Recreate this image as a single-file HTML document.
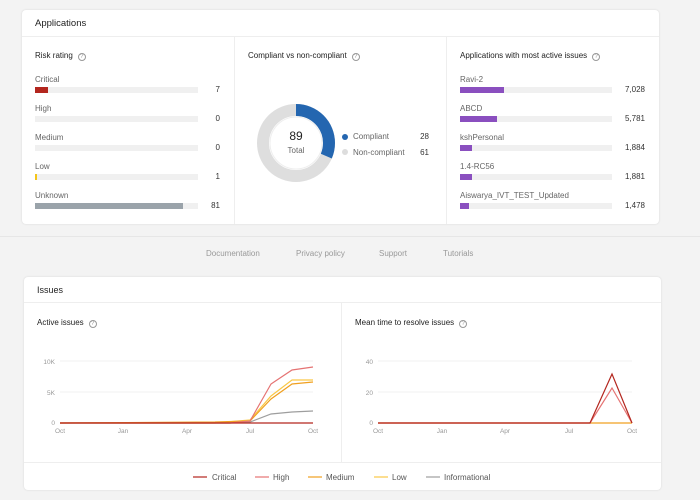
<!DOCTYPE html><html><head><style>
*{margin:0;padding:0;box-sizing:border-box}
body{width:700px;height:500px;background:#f3f3f3;font-family:"Liberation Sans",sans-serif;position:relative;overflow:hidden;color:#333}
.a{position:absolute}
.card{position:absolute;background:#fff;border-radius:4px;box-shadow:0 0 2px rgba(0,0,0,.12)}
.t{font-size:9px;color:#222}
.l{font-size:8px;color:#666}
.v{font-size:8px;color:#333;text-align:right;width:30px}
.q{display:inline-block;width:8px;height:8px;border:1px solid #999;border-radius:50%;font-size:6px;line-height:6px;text-align:center;color:#999;margin-left:5px;vertical-align:0}
.track{position:absolute;height:6px;background:#f0f0f0}
.bar{position:absolute;left:0;top:0;height:6px}
.f{font-size:8px;color:#999}
.ax{font-size:6.5px;fill:#999;font-family:"Liberation Sans",sans-serif}
</style></head><body>
<div class="card" style="left:22px;top:10px;width:637px;height:214px"></div>
<div class="a t" style="left:35px;top:18px;font-size:9.5px">Applications</div>
<div class="a" style="left:22px;top:36px;width:637px;height:1px;background:#eee"></div>
<div class="a" style="left:234px;top:37px;width:1px;height:187px;background:#eee"></div>
<div class="a" style="left:446px;top:37px;width:1px;height:187px;background:#eee"></div>

<div class="a t" style="left:35px;top:51px;font-size:8px">Risk rating<span class="q">?</span></div>
<div class="a l" style="left:35px;top:75px">Critical</div><div class="track" style="left:35px;top:87px;width:163px"><div class="bar" style="width:13px;background:#b3261e"></div></div><div class="a v" style="left:190px;top:85px">7</div>
<div class="a l" style="left:35px;top:104px">High</div><div class="track" style="left:35px;top:116px;width:163px"></div><div class="a v" style="left:190px;top:114px">0</div>
<div class="a l" style="left:35px;top:133px">Medium</div><div class="track" style="left:35px;top:145px;width:163px"></div><div class="a v" style="left:190px;top:143px">0</div>
<div class="a l" style="left:35px;top:162px">Low</div><div class="track" style="left:35px;top:174px;width:163px"><div class="bar" style="width:2px;background:#f5c518"></div></div><div class="a v" style="left:190px;top:172px">1</div>
<div class="a l" style="left:35px;top:191px">Unknown</div><div class="track" style="left:35px;top:203px;width:163px"><div class="bar" style="width:148px;background:#9aa3aa"></div></div><div class="a v" style="left:190px;top:201px">81</div>

<div class="a t" style="left:248px;top:51px;font-size:8px">Compliant vs non-compliant<span class="q">?</span></div>
<svg class="a" style="left:250px;top:97px" width="92" height="92">
<circle cx="46" cy="46" r="33" fill="none" stroke="#dedede" stroke-width="12"/>
<circle cx="46" cy="46" r="33" fill="none" stroke="#2466b0" stroke-width="12" stroke-dasharray="65.2 300" transform="rotate(-90 46 46)"/>
<circle cx="46" cy="46" r="26" fill="none" stroke="#eee" stroke-width="1"/>
</svg>
<div class="a" style="left:276px;top:129px;width:40px;text-align:center;font-size:12px;color:#222">89</div>
<div class="a" style="left:276px;top:146px;width:40px;text-align:center;font-size:8px;color:#666">Total</div>
<div class="a" style="left:342px;top:134px;width:6px;height:6px;border-radius:50%;background:#2466b0"></div>
<div class="a l" style="left:353px;top:132px">Compliant</div><div class="a v" style="left:399px;top:132px">28</div>
<div class="a" style="left:342px;top:149px;width:6px;height:6px;border-radius:50%;background:#ddd"></div>
<div class="a l" style="left:353px;top:148px">Non-compliant</div><div class="a v" style="left:399px;top:148px">61</div>

<div class="a t" style="left:460px;top:51px;font-size:8px">Applications with most active issues<span class="q">?</span></div>
<div class="a l" style="left:460px;top:75px">Ravi-2</div><div class="track" style="left:460px;top:87px;width:152px"><div class="bar" style="width:44px;background:#8a4fbf"></div></div><div class="a v" style="left:615px;top:85px">7,028</div>
<div class="a l" style="left:460px;top:104px">ABCD</div><div class="track" style="left:460px;top:116px;width:152px"><div class="bar" style="width:37px;background:#8a4fbf"></div></div><div class="a v" style="left:615px;top:114px">5,781</div>
<div class="a l" style="left:460px;top:133px">kshPersonal</div><div class="track" style="left:460px;top:145px;width:152px"><div class="bar" style="width:12px;background:#8a4fbf"></div></div><div class="a v" style="left:615px;top:143px">1,884</div>
<div class="a l" style="left:460px;top:162px">1.4-RC56</div><div class="track" style="left:460px;top:174px;width:152px"><div class="bar" style="width:12px;background:#8a4fbf"></div></div><div class="a v" style="left:615px;top:172px">1,881</div>
<div class="a l" style="left:460px;top:191px">Aiswarya_IVT_TEST_Updated</div><div class="track" style="left:460px;top:203px;width:152px"><div class="bar" style="width:9px;background:#8a4fbf"></div></div><div class="a v" style="left:615px;top:201px">1,478</div>

<div class="a" style="left:0;top:236px;width:700px;height:1px;background:#e6e6e6"></div>
<div class="a f" style="left:206px;top:249px">Documentation</div>
<div class="a f" style="left:296px;top:249px">Privacy policy</div>
<div class="a f" style="left:379px;top:249px">Support</div>
<div class="a f" style="left:443px;top:249px">Tutorials</div>

<div class="card" style="left:24px;top:277px;width:637px;height:213px"></div>
<div class="a t" style="left:37px;top:285px">Issues</div>
<div class="a" style="left:24px;top:302px;width:637px;height:1px;background:#eee"></div>
<div class="a" style="left:341px;top:303px;width:1px;height:159px;background:#eee"></div>
<div class="a" style="left:24px;top:462px;width:637px;height:1px;background:#eee"></div>
<div class="a t" style="left:37px;top:318px;font-size:8px">Active issues<span class="q">?</span></div>
<div class="a t" style="left:355px;top:318px;font-size:8px">Mean time to resolve issues<span class="q">?</span></div>

<svg class="a" style="left:0;top:0" width="700" height="500">
<g stroke="#eee" stroke-width="0.7"><line x1="60" y1="361" x2="313" y2="361"/><line x1="60" y1="392" x2="313" y2="392"/><line x1="378" y1="361" x2="632" y2="361"/><line x1="378" y1="392" x2="632" y2="392"/></g>
<g class="ax" text-anchor="end"><text x="55" y="364">10K</text><text x="55" y="395">5K</text><text x="55" y="425">0</text><text x="373" y="364">40</text><text x="373" y="395">20</text><text x="373" y="425">0</text></g>
<g class="ax" text-anchor="middle"><text x="60" y="433">Oct</text><text x="123" y="433">Jan</text><text x="187" y="433">Apr</text><text x="250" y="433">Jul</text><text x="313" y="433">Oct</text>
<text x="378" y="433">Oct</text><text x="442" y="433">Jan</text><text x="505" y="433">Apr</text><text x="569" y="433">Jul</text><text x="632" y="433">Oct</text></g>
<g fill="none" stroke-width="1.2">
<polyline stroke="#9e9e9e" points="60,423 230,423 250,422 271,414 292,412 313,411"/>
<polyline stroke="#f9c846" points="60,423 215,423 250,420 271,396 292,380 313,380"/>
<polyline stroke="#f0a020" points="60,423 215,422 250,421 271,399 292,384 313,382"/>
<polyline stroke="#e57373" points="60,423 230,423 250,421 271,384 292,370 313,367"/>
<polyline stroke="#b3261e" points="60,423 313,423"/>
<polyline stroke="#f0a020" points="378,423 632,423"/>
<polyline stroke="#e57373" points="378,423 590,423 612,388 632,423"/>
<polyline stroke="#b3261e" points="378,423 590,423 612,374 632,423"/>
</g>
<g stroke-width="1.2"><line x1="193" y1="477" x2="207" y2="477" stroke="#b3261e"/><line x1="255" y1="477" x2="269" y2="477" stroke="#e57373"/><line x1="308" y1="477" x2="322" y2="477" stroke="#f0a020"/><line x1="374" y1="477" x2="388" y2="477" stroke="#f9c846"/><line x1="426" y1="477" x2="440" y2="477" stroke="#9e9e9e"/></g>
<g font-family="Liberation Sans" font-size="8" fill="#555"><text x="212" y="480">Critical</text><text x="273" y="480">High</text><text x="326" y="480">Medium</text><text x="392" y="480">Low</text><text x="444" y="480">Informational</text></g>
</svg>
</body></html>
